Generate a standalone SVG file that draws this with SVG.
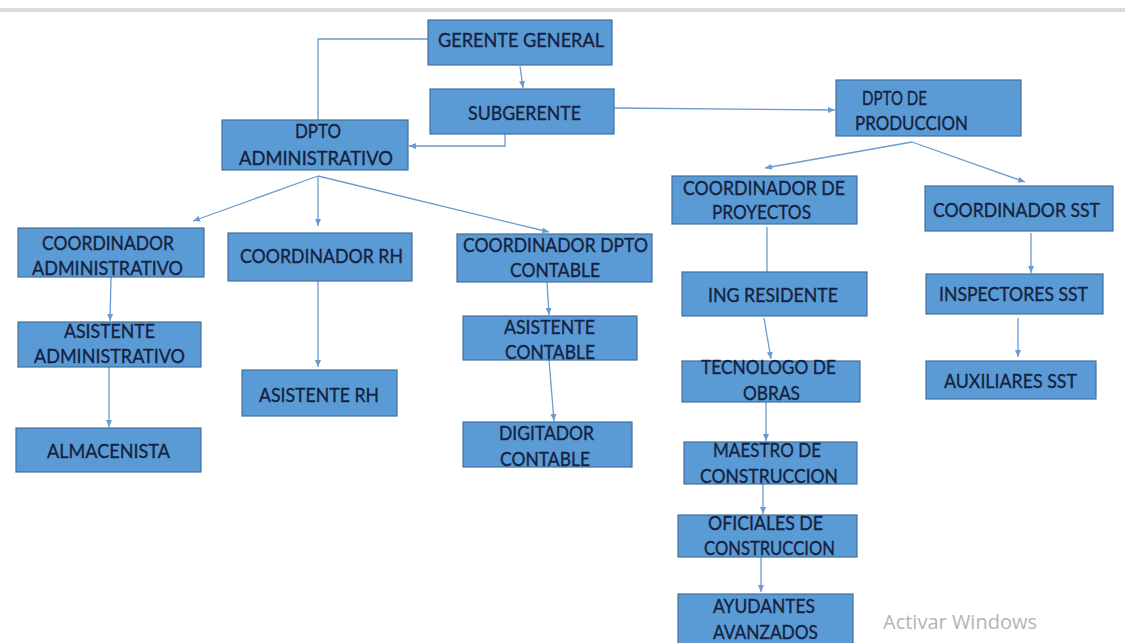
<svg xmlns="http://www.w3.org/2000/svg" width="1125" height="643" viewBox="0 0 1125 643">
<defs>
<marker id="ah" markerWidth="8" markerHeight="8" refX="7" refY="4" orient="auto" markerUnits="userSpaceOnUse">
<path d="M0,1 L7,4 L0,7 Z" fill="#6a9bd0"/>
</marker>
<style>
.box{fill:#5b9bd5;stroke:#41719c;stroke-width:1.2}
.t{font-family:Lato,"Open Sans","Liberation Sans",sans-serif;font-size:20px;fill:#15223f;stroke:#15223f;stroke-width:0.35}
.c{fill:none;stroke:#6a9bd0;stroke-width:1.3}
.a{marker-end:url(#ah)}
</style>
</defs>
<rect width="1125" height="643" fill="#ffffff"/>
<rect x="0" y="8" width="1125" height="4" fill="#dcdcdc"/>
<g id="connectors">
<path class="c" d="M428,39 H318 V120"/>
<path class="c a" d="M520,66 L523,88"/>
<path class="c a" d="M505,134 V146 H409"/>
<path class="c a" d="M614,108 L835,110"/>
<path class="c a" d="M912,142 L765,168"/>
<path class="c a" d="M912,142 L1025,182"/>
<path class="c a" d="M318,176 L193,221"/>
<path class="c a" d="M318,176 L318,226"/>
<path class="c a" d="M318,176 L549,232"/>
<path class="c a" d="M111,277 L110,321"/>
<path class="c a" d="M109,367 L109,427"/>
<path class="c a" d="M318,281 L318,367"/>
<path class="c a" d="M547,282 L549,315"/>
<path class="c a" d="M549,360 L554,421"/>
<path class="c" d="M767,227 L767,272"/>
<path class="c a" d="M764,318 L771,359"/>
<path class="c a" d="M766,402 L766,441"/>
<path class="c a" d="M763,484 L763,514"/>
<path class="c a" d="M761,557 L761,592"/>
<path class="c a" d="M1031,233 L1031,273"/>
<path class="c a" d="M1018,318 L1018,357"/>
</g>
<g id="gerente"><rect class="box" x="428" y="20" width="184" height="45"/><text class="t" x="438" y="47" textLength="166" lengthAdjust="spacingAndGlyphs">GERENTE GENERAL</text></g>
<g id="subgerente"><rect class="box" x="430" y="89" width="184" height="45"/><text class="t" x="468" y="120" textLength="113" lengthAdjust="spacingAndGlyphs">SUBGERENTE</text></g>
<g id="dpto-admin"><rect class="box" x="222" y="120" width="186" height="50"/><text class="t" x="295" y="138" textLength="46" lengthAdjust="spacingAndGlyphs">DPTO</text><text class="t" x="239" y="165" textLength="154" lengthAdjust="spacingAndGlyphs">ADMINISTRATIVO</text></g>
<g id="dpto-prod"><rect class="box" x="836" y="80" width="185" height="56"/><text class="t" x="862" y="105" textLength="65" lengthAdjust="spacingAndGlyphs">DPTO DE</text><text class="t" x="855" y="130" textLength="113" lengthAdjust="spacingAndGlyphs">PRODUCCION</text></g>
<g id="coord-proyectos"><rect class="box" x="672" y="176" width="185" height="48"/><text class="t" x="683" y="195" textLength="162" lengthAdjust="spacingAndGlyphs">COORDINADOR DE</text><text class="t" x="712" y="219" textLength="99" lengthAdjust="spacingAndGlyphs">PROYECTOS</text></g>
<g id="coord-sst"><rect class="box" x="925" y="186" width="188" height="45"/><text class="t" x="933" y="217" textLength="167" lengthAdjust="spacingAndGlyphs">COORDINADOR SST</text></g>
<g id="coord-admin"><rect class="box" x="18" y="228" width="186" height="49"/><text class="t" x="42" y="250" textLength="132" lengthAdjust="spacingAndGlyphs">COORDINADOR</text><text class="t" x="32" y="275" textLength="151" lengthAdjust="spacingAndGlyphs">ADMINISTRATIVO</text></g>
<g id="coord-rh"><rect class="box" x="228" y="233" width="184" height="48"/><text class="t" x="240" y="263" textLength="163" lengthAdjust="spacingAndGlyphs">COORDINADOR RH</text></g>
<g id="coord-contable"><rect class="box" x="457" y="234" width="195" height="48"/><text class="t" x="463" y="252" textLength="185" lengthAdjust="spacingAndGlyphs">COORDINADOR DPTO</text><text class="t" x="510" y="277" textLength="90" lengthAdjust="spacingAndGlyphs">CONTABLE</text></g>
<g id="asist-admin"><rect class="box" x="18" y="322" width="183" height="45"/><text class="t" x="64" y="338" textLength="91" lengthAdjust="spacingAndGlyphs">ASISTENTE</text><text class="t" x="34" y="363" textLength="151" lengthAdjust="spacingAndGlyphs">ADMINISTRATIVO</text></g>
<g id="almacenista"><rect class="box" x="16" y="428" width="185" height="44"/><text class="t" x="47" y="458" textLength="123" lengthAdjust="spacingAndGlyphs">ALMACENISTA</text></g>
<g id="asist-rh"><rect class="box" x="242" y="370" width="155" height="46"/><text class="t" x="259" y="402" textLength="120" lengthAdjust="spacingAndGlyphs">ASISTENTE RH</text></g>
<g id="asist-contable"><rect class="box" x="463" y="316" width="174" height="44"/><text class="t" x="504" y="334" textLength="91" lengthAdjust="spacingAndGlyphs">ASISTENTE</text><text class="t" x="505" y="359" textLength="90" lengthAdjust="spacingAndGlyphs">CONTABLE</text></g>
<g id="digitador"><rect class="box" x="463" y="422" width="169" height="45"/><text class="t" x="499" y="440" textLength="95" lengthAdjust="spacingAndGlyphs">DIGITADOR</text><text class="t" x="500" y="466" textLength="90" lengthAdjust="spacingAndGlyphs">CONTABLE</text></g>
<g id="ing-residente"><rect class="box" x="682" y="272" width="185" height="44"/><text class="t" x="708" y="302" textLength="130" lengthAdjust="spacingAndGlyphs">ING RESIDENTE</text></g>
<g id="tecnologo"><rect class="box" x="682" y="361" width="178" height="41"/><text class="t" x="701" y="374" textLength="135" lengthAdjust="spacingAndGlyphs">TECNOLOGO DE</text><text class="t" x="743" y="400" textLength="57" lengthAdjust="spacingAndGlyphs">OBRAS</text></g>
<g id="maestro"><rect class="box" x="684" y="442" width="173" height="42"/><text class="t" x="713" y="457" textLength="108" lengthAdjust="spacingAndGlyphs">MAESTRO DE</text><text class="t" x="700" y="483" textLength="138" lengthAdjust="spacingAndGlyphs">CONSTRUCCION</text></g>
<g id="oficiales"><rect class="box" x="678" y="515" width="179" height="42"/><text class="t" x="708" y="530" textLength="115" lengthAdjust="spacingAndGlyphs">OFICIALES DE</text><text class="t" x="704" y="555" textLength="131" lengthAdjust="spacingAndGlyphs">CONSTRUCCION</text></g>
<g id="ayudantes"><rect class="box" x="678" y="594" width="175" height="52"/><text class="t" x="713" y="613" textLength="102" lengthAdjust="spacingAndGlyphs">AYUDANTES</text><text class="t" x="713" y="639" textLength="105" lengthAdjust="spacingAndGlyphs">AVANZADOS</text></g>
<g id="inspectores"><rect class="box" x="926" y="274" width="177" height="40"/><text class="t" x="939" y="301" textLength="149" lengthAdjust="spacingAndGlyphs">INSPECTORES SST</text></g>
<g id="auxiliares"><rect class="box" x="926" y="361" width="170" height="38"/><text class="t" x="944" y="388" textLength="133" lengthAdjust="spacingAndGlyphs">AUXILIARES SST</text></g>
<text x="883" y="629" font-family="'Open Sans','Noto Sans',sans-serif" font-size="20" fill="#b4b4b4">Activar Windows</text>
</svg>
